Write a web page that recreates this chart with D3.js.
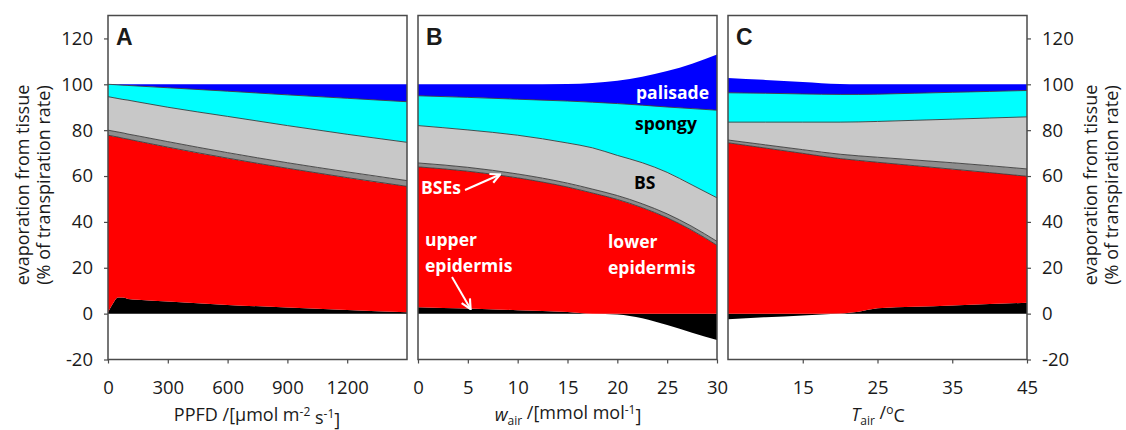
<!DOCTYPE html>
<html>
<head>
<meta charset="utf-8">
<script src="https://cdn.jsdelivr.net/npm/d3@7"></script>
<style>
  html, body { margin: 0; padding: 0; background: #fff; }
  svg { display: block; }
  text { font-family: "Open Sans", "Noto Sans", sans-serif; fill: #1a1a1a; }
</style>
</head>
<body>
<svg id="chart" width="1126" height="430"></svg>
<script>
// Share of transpiration evaporated from each leaf tissue (% of transpiration rate)

// Panel A: photosynthetic photon flux density
const ppfdLevels        = [0, 25, 50, 75, 100, 150, 300, 600, 900, 1200, 1500];
const ppfdUpperEpi      = [0.5, 4.4, 7.0, 7.0, 6.4, 6.0, 5.3, 3.8, 2.7, 1.6, 0.6];
const ppfdLowerEpi      = [77.3, 73.0, 70.0, 69.5, 69.7, 69.2, 67.3, 64.0, 60.7, 57.7, 54.9];
const ppfdBSEs          = [2.2, 2.2, 2.2, 2.3, 2.2, 2.3, 2.4, 2.4, 2.4, 2.5, 2.5];
const ppfdBS            = [14.6, 14.6, 14.6, 14.6, 14.8, 14.8, 15.0, 15.8, 16.2, 16.4, 16.7];
const ppfdSpongy        = [5.4, 5.7, 5.95, 6.2, 6.4, 6.95, 8.5, 11.0, 13.4, 15.7, 17.7];
const ppfdPalisade      = [0.0, 0.1, 0.25, 0.4, 0.5, 0.75, 1.5, 3.0, 4.6, 6.1, 7.6];

// Panel B: water vapour mole fraction of the air
const wairLevels        = [0, 5, 10, 15, 17.5, 20, 22.5, 25, 27.5, 30];
const wairUpperEpi      = [2.8, 2.2, 1.5, 0.7, 0.0, -0.4, -2.0, -5.0, -8.3, -11.5];
const wairLowerEpi      = [61.2, 59.9, 57.7, 54.5, 52.6, 49.8, 46.2, 41.8, 36.3, 29.8];
const wairBSEs          = [1.7, 1.7, 1.7, 1.7, 1.7, 1.7, 1.7, 1.7, 1.7, 1.7];
const wairBS            = [16.3, 16.3, 16.9, 17.5, 18.0, 17.5, 17.9, 18.1, 18.1, 19.0];
const wairSpongy        = [13.0, 14.2, 15.7, 18.3, 19.9, 22.6, 25.1, 28.5, 33.3, 38.2];
const wairPalisade      = [5.0, 5.7, 6.5, 7.4, 8.4, 10.0, 12.4, 15.7, 19.6, 24.3];

// Panel C: air temperature
const tairLevels        = [5, 10, 15, 20, 22.5, 25, 30, 35, 40, 45];
const tairUpperEpi      = [-2.5, -1.6, -0.8, 0.1, 0.8, 2.3, 3.0, 3.6, 4.2, 4.7];
const tairLowerEpi      = [74.5, 72.2, 69.9, 67.5, 66.0, 63.7, 61.5, 59.4, 57.3, 55.2];
const tairBSEs          = [1.2, 1.4, 1.6, 1.9, 2.0, 2.2, 2.5, 2.8, 3.0, 3.2];
const tairBS            = [7.8, 9.9, 12.0, 14.0, 14.8, 15.6, 17.3, 19.0, 20.8, 22.7];
const tairSpongy        = [12.8, 12.6, 12.3, 12.1, 12.0, 11.9, 11.8, 11.7, 11.6, 11.5];
const tairPalisade      = [6.5, 5.8, 5.2, 4.5, 4.4, 4.3, 3.9, 3.5, 3.1, 2.7];

// Axis ticks
const ppfdTicks = [0, 300, 600, 900, 1200];
const wairTicks = [0, 5, 10, 15, 20, 25, 30];
const tairTicks = [15, 25, 35, 45];
const yTicks    = [-20, 0, 20, 40, 60, 80, 100, 120];

// Tissues, stacked from the bottom
const tissueKeys   = ["upper", "lower", "bses", "bs", "spongy", "palisade"];
const tissueColors = ["#000000", "#ff0000", "#8e8e8e", "#c8c8c8", "#00ffff", "#0000ff"];

function rows(levels, series) {
  return levels.map((x, i) => {
    const r = { x };
    tissueKeys.forEach((k, j) => { r[k] = series[j][i]; });
    return r;
  });
}

const panels = [
  { letter: "A", left: 108, domain: [0, 1500], ticks: ppfdTicks,
    data: rows(ppfdLevels, [ppfdUpperEpi, ppfdLowerEpi, ppfdBSEs, ppfdBS, ppfdSpongy, ppfdPalisade]) },
  { letter: "B", left: 418, domain: [0, 30], ticks: wairTicks,
    data: rows(wairLevels, [wairUpperEpi, wairLowerEpi, wairBSEs, wairBS, wairSpongy, wairPalisade]) },
  { letter: "C", left: 728, domain: [5, 45], ticks: tairTicks,
    data: rows(tairLevels, [tairUpperEpi, tairLowerEpi, tairBSEs, tairBS, tairSpongy, tairPalisade]) }
];

const W = 299, plotTop = 15.5, plotBottom = 359.5;
const plain = d => String(d);   // plain hyphen for negatives, no thousands separator
const svg = d3.select("#chart");
const y = d3.scaleLinear().domain([-20, 130]).range([plotBottom, plotTop]);
const stack = d3.stack().keys(tissueKeys).offset(d3.stackOffsetDiverging);

panels.forEach((p, pi) => {
  const x = d3.scaleLinear().domain(p.domain).range([p.left, p.left + W]);
  const g = svg.append("g");
  const clipId = "clip" + pi;
  svg.append("clipPath").attr("id", clipId)
    .append("rect").attr("x", p.left).attr("y", plotTop).attr("width", W).attr("height", plotBottom - plotTop);

  const layers = stack(p.data);
  const area = d3.area().curve(d3.curveMonotoneX)
    .x(d => x(d.data.x)).y0(d => y(d[0])).y1(d => y(d[1]));
  const plot = g.append("g").attr("clip-path", `url(#${clipId})`);
  plot.selectAll("path.layer").data(layers).join("path")
    .attr("class", "layer")
    .attr("fill", (d, i) => tissueColors[i])
    .attr("d", area);

  // thin outlines along the internal tissue boundaries
  const edge = d3.line().curve(d3.curveMonotoneX)
    .x(d => x(d.data.x)).y(d => y(d[1]));
  plot.selectAll("path.edge").data(layers.filter((l, i) => i >= 1 && i <= 4)).join("path")
    .attr("class", "edge")
    .attr("fill", "none").attr("stroke", "#3c3c3c").attr("stroke-width", 0.9)
    .attr("d", edge);

  // frame
  g.append("rect").attr("x", p.left).attr("y", plotTop).attr("width", W).attr("height", plotBottom - plotTop)
    .attr("fill", "none").attr("stroke", "#4a4a4a").attr("stroke-width", 1.5);

  // x axis
  const xa = g.append("g").attr("transform", `translate(0,${plotBottom})`)
    .call(d3.axisBottom(x).tickValues(p.ticks).tickFormat(plain).tickSize(4).tickPadding(17));
  xa.select(".domain").remove();
  xa.selectAll("line").attr("stroke", "#4a4a4a").attr("stroke-width", 1.2);
  xa.selectAll("text").style("font-size", "18.5px").attr("fill", "#1a1a1a");

  // panel letter
  g.append("text").attr("x", p.left + 8).attr("y", 45)
    .style("font-family", "'Liberation Sans', Arial, sans-serif")
    .style("font-weight", "bold").style("font-size", "23px").text(p.letter);
});

// y axes: left of A, right of C
function styleY(sel) {
  sel.select(".domain").remove();
  sel.selectAll("line").attr("stroke", "#4a4a4a").attr("stroke-width", 1.2);
  sel.selectAll("text").style("font-size", "18.5px").attr("fill", "#1a1a1a");
}
svg.append("g").attr("transform", "translate(108,0)")
  .call(d3.axisLeft(y).tickValues(yTicks).tickFormat(plain).tickSize(4).tickPadding(11)).call(styleY);
svg.append("g").attr("transform", `translate(${728 + W},0)`)
  .call(d3.axisRight(y).tickValues(yTicks).tickFormat(plain).tickSize(4).tickPadding(11)).call(styleY);

// y axis titles (two lines, read bottom to top)
function yTitle(baseline1) {
  const t = svg.append("text").attr("transform", `translate(${baseline1},185) rotate(-90)`)
    .attr("text-anchor", "middle").style("font-size", "18px");
  t.append("tspan").attr("x", 0).attr("dy", 0).text("evaporation from tissue");
  t.append("tspan").attr("x", 0).attr("dy", 21).text("(% of transpiration rate)");
}
yTitle(29);
yTitle(1097);

// x axis titles
const titleY = 421;
function xTitle(cx, build) {
  const t = svg.append("text").attr("x", cx).attr("y", titleY)
    .attr("text-anchor", "middle").style("font-size", "18px");
  build(t);
}
xTitle(257, t => {
  t.append("tspan").text("PPFD /[\u03bcmol m");
  t.append("tspan").attr("dy", "-0.45em").style("font-size", "12px").text("-2");
  t.append("tspan").attr("dy", "0.45em").text(" s");
  t.append("tspan").attr("dy", "-0.45em").style("font-size", "12px").text("-1");
  t.append("tspan").attr("dy", "0.45em").text("]");
});
xTitle(568, t => {
  t.append("tspan").style("font-style", "italic").text("w");
  t.append("tspan").attr("dy", "0.35em").style("font-size", "12px").text("air");
  t.append("tspan").attr("dy", "-0.35em").text(" /[mmol mol");
  t.append("tspan").attr("dy", "-0.45em").style("font-size", "12px").text("-1");
  t.append("tspan").attr("dy", "0.45em").text("]");
});
xTitle(878, t => {
  t.append("tspan").style("font-style", "italic").text("T");
  t.append("tspan").attr("dy", "0.35em").style("font-size", "12px").text("air");
  t.append("tspan").attr("dy", "-0.35em").text(" /");
  t.append("tspan").attr("dy", "-0.45em").style("font-size", "12px").text("o");
  t.append("tspan").attr("dy", "0.45em").text("C");
});

// tissue labels in panel B
const lab = svg.append("g").style("font-weight", "bold").style("font-size", "17.5px");
function label(x0, yc, txt, color) {
  lab.append("text").attr("x", x0).attr("y", yc).attr("dy", "0.35em")
    .style("fill", color).text(txt);
}
label(636, 93, "palisade", "#ffffff");
label(635, 124, "spongy", "#000000");
label(634, 183, "BS", "#000000");
label(421, 188, "BSEs", "#ffffff");
label(425, 240, "upper", "#ffffff");
label(425, 266, "epidermis", "#ffffff");
label(608, 242, "lower", "#ffffff");
label(608, 268, "epidermis", "#ffffff");

// arrows
const defs = svg.append("defs");
defs.append("marker").attr("id", "head").attr("viewBox", "0 0 10 10")
  .attr("refX", 8).attr("refY", 5).attr("markerWidth", 6).attr("markerHeight", 6)
  .attr("orient", "auto-start-reverse")
  .append("path").attr("d", "M1,1 L9,5 L1,9").attr("fill", "none")
  .attr("stroke", "#fff").attr("stroke-width", 1.8);
function arrow(x1, y1, x2, y2) {
  svg.append("line").attr("x1", x1).attr("y1", y1).attr("x2", x2).attr("y2", y2)
    .attr("stroke", "#fff").attr("stroke-width", 2).attr("marker-end", "url(#head)");
}
arrow(465, 190, 499, 175);
arrow(452, 277, 470, 308);
</script>
</body>
</html>
